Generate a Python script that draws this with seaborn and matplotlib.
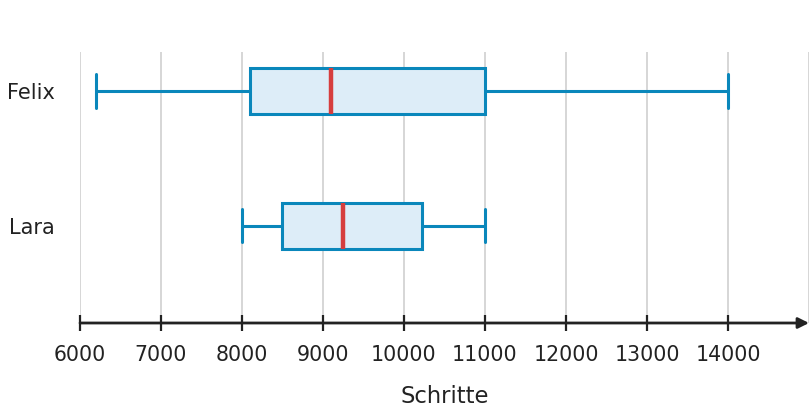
import numpy as np
import pandas as pd
import seaborn as sns
import matplotlib.pyplot as plt

# five-number summaries (min, Q1, median, Q3, max)
names = ["Felix", "Lara"]
felix_steps = [6200, 8100, 9100, 11000, 14000]
lara_steps = [8000, 8500, 9250, 10220, 11000]
x_ticks = [6000, 7000, 8000, 9000, 10000, 11000, 12000, 13000, 14000]

df = pd.DataFrame({
    "Name": [names[0]] * len(felix_steps) + [names[1]] * len(lara_steps),
    "Schritte": felix_steps + lara_steps,
})

sns.set_style("white")
plt.rcParams['font.family'] = ['DejaVu Sans']

fig = plt.figure(figsize=(8.12, 4.12), dpi=100)
ax = fig.add_axes([80 / 812, 89 / 412, 729 / 812, 271 / 412])

edge = "#0a87bb"
sns.boxplot(data=df, x="Schritte", y="Name", orient="h", ax=ax,
            color="#ddedf8", saturation=1, linecolor=edge, linewidth=2.2,
            width=0.34, capwidths=0.245, whis=10, showfliers=False,
            medianprops=dict(color="#d63e3e", linewidth=3.2))

ax.set_xlim(6000, 15000)
ax.set_ylim(1.719, -0.289)
ax.set_xticks(x_ticks)
ax.set_xticklabels([str(t) for t in x_ticks], fontsize=14.8, color="#222222")
for gx in x_ticks + [15000]:
    ax.axvline(gx, color="#d6d6d6", lw=1.4, zorder=0)

ax.tick_params(axis="x", bottom=True, direction="inout", length=12, width=1.6,
               color="#222222", pad=10)
ax.tick_params(axis="y", left=False, length=0, pad=18, labelsize=15,
               labelcolor="#222222")
for s in ax.spines.values():
    s.set_visible(False)

ax.annotate("", xy=(1.0, 0), xytext=(0, 0), xycoords="axes fraction",
            arrowprops=dict(arrowstyle="-|>", color="#222222", lw=2,
                            mutation_scale=16, shrinkA=0, shrinkB=0))

ax.set_ylabel("")
ax.set_xlabel("Schritte", fontsize=16.3, color="#222222", labelpad=14)

fig.savefig("out.png", dpi=100)
